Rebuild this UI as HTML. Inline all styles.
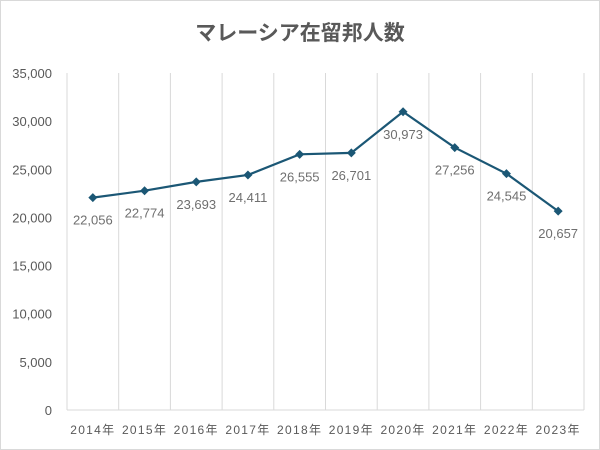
<!DOCTYPE html>
<html><head><meta charset="utf-8"><style>
body{margin:0;background:#fff;}
svg{display:block;font-family:"Liberation Sans","Noto Sans CJK JP",sans-serif;}
</style></head><body>
<svg id="chart" width="600" height="450">
<rect x="0.5" y="0.5" width="599" height="449" fill="#fff" stroke="#d9d9d9"/>
<text x="300" y="40" text-anchor="middle" font-size="21" font-weight="bold" fill="#595959" font-family="'Noto Sans CJK JP',sans-serif">マレーシア在留邦人数</text>
<g id="grid"></g><g id="axes"></g><g id="series"></g>
</svg>
<script>
const categories=["2014年","2015年","2016年","2017年","2018年","2019年","2020年","2021年","2022年","2023年"];
const values=[22056,22774,23693,24411,26555,26701,30973,27256,24545,20657];
const valueLabels=["22,056","22,774","23,693","24,411","26,555","26,701","30,973","27,256","24,545","20,657"];
const yTicks=[0,5000,10000,15000,20000,25000,30000,35000];
const yTickLabels=["0","5,000","10,000","15,000","20,000","25,000","30,000","35,000"];
const NS="http://www.w3.org/2000/svg";
const L=67,R=584,T=73,B=410,YMAX=35000;
const bw=(R-L)/categories.length;
const x=i=>L+bw*(i+0.5);
const y=v=>B-v/YMAX*(B-T);
function mk(t,a,p){const e=document.createElementNS(NS,t);for(const k in a)e.setAttribute(k,a[k]);p.appendChild(e);return e;}
const grid=document.getElementById('grid'),axes=document.getElementById('axes'),ser=document.getElementById('series');
for(let i=0;i<=categories.length;i++){
 const g=mk('line',{x1:L+bw*i,x2:L+bw*i,y1:T,y2:B,stroke:'#d9d9d9','stroke-width':1},grid);
 
 
}
const ax=mk('line',{x1:L,x2:R,y1:B,y2:B,stroke:'#d9d9d9','stroke-width':1},axes);


yTicks.forEach((v,i)=>{
 const t=mk('text',{x:52,y:y(v)+5,'text-anchor':'end','font-size':13,fill:'#595959'},axes);
 t.textContent=yTickLabels[i];
 
 
});
categories.forEach((c,i)=>{
 const t=mk('text',{x:x(i),y:434,'text-anchor':'middle','font-size':12,fill:'#595959','letter-spacing':'1.3'},axes);
 t.textContent=c;
 
 
});
const pl=mk('polyline',{points:values.map((v,i)=>x(i)+','+y(v)).join(' '),fill:'none',stroke:'#1b5775','stroke-width':2.2},ser);


values.forEach((v,i)=>{
 const cx=x(i),cy=y(v);
 const m=mk('polygon',{points:`${cx},${cy-4.5} ${cx+4.5},${cy} ${cx},${cy+4.5} ${cx-4.5},${cy}`,fill:'#1b5775'},ser);
 
 
 const t=mk('text',{x:cx,y:cy+27,'text-anchor':'middle','font-size':13,fill:'#6f6f6f'},ser);
 t.textContent=valueLabels[i];
 
 
});
</script>
</body></html>
